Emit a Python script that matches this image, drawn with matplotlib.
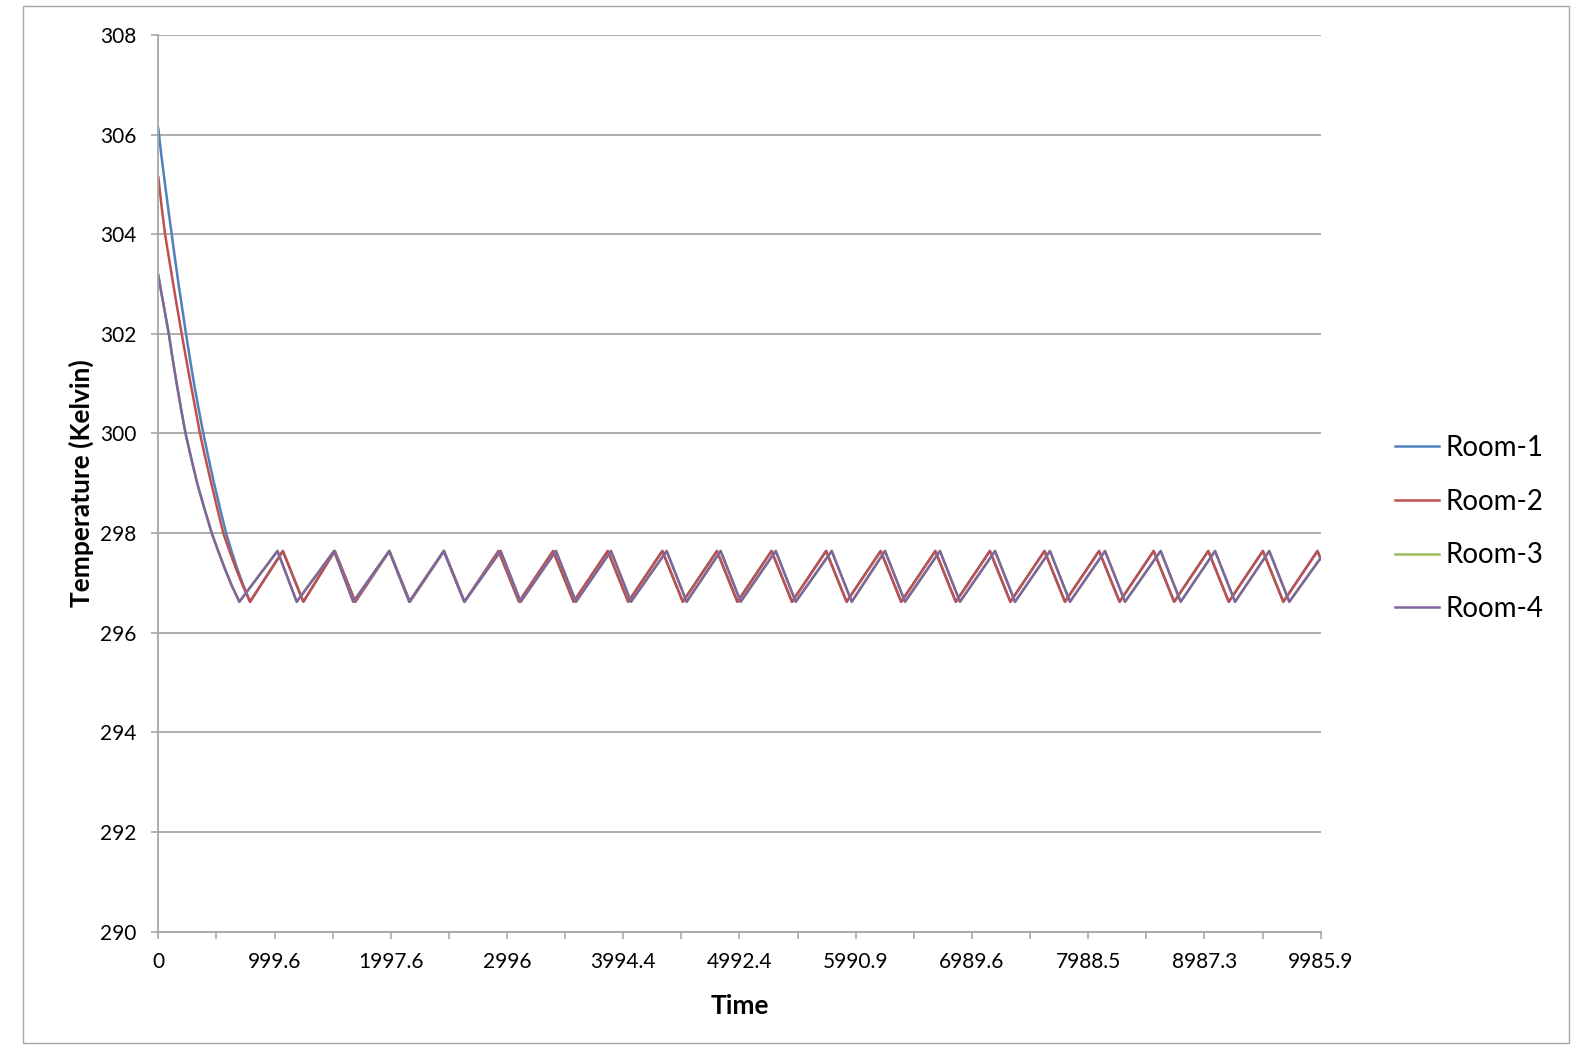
import matplotlib.pyplot as plt
from matplotlib.patches import Rectangle

plt.rcParams["font.family"] = ["Lato", "DejaVu Sans"]

# x axis: labels shown on every other category tick
time_values = [0, 999.6, 1997.6, 2996, 3994.4, 4992.4, 5990.9, 6989.6, 7988.5, 8987.3, 9985.9]
time_labels = ["0", "999.6", "1997.6", "2996", "3994.4", "4992.4",
               "5990.9", "6989.6", "7988.5", "8987.3", "9985.9"]
kelvin_ticks = [290, 292, 294, 296, 298, 300, 302, 304, 306, 308]

# initial cool-down
room1_start_t = [0, 28, 58, 86, 115, 144, 174, 206, 238, 272, 307, 346, 387, 432, 479, 530, 582, 628, 676, 730, 788]
room1_start_k = [306.12, 305.55, 305.0, 304.5, 304.0, 303.5, 303.0, 302.5, 302.0, 301.5, 301.0, 300.5,
                 300.0, 299.5, 299.0, 298.5, 298.0, 297.65, 297.3, 296.95, 296.62]
room2_start_t = [0, 28, 58, 93, 128, 164, 201, 239, 278, 318, 358, 405, 455, 506, 558, 610, 665, 725, 788]
room2_start_k = [305.15, 304.56, 304.0, 303.5, 303.0, 302.5, 302.0, 301.5, 301.0, 300.5, 300.0, 299.5,
                 299.0, 298.5, 298.0, 297.65, 297.3, 296.95, 296.62]
room34_start_t = [0, 22, 44, 67, 90, 123, 158, 195, 234, 283, 334, 395, 459, 513, 569, 630, 696]
room34_start_k = [303.18, 302.88, 302.6, 302.3, 302.0, 301.5, 301.0, 300.5, 300.0, 299.5, 299.0, 298.5,
                  298.0, 297.65, 297.3, 296.95, 296.62]

# thermostat cycling: times of peaks and troughs
room12_peak_t = [1070, 1516, 1985, 2454, 2923, 3392, 3861, 4330, 4799, 5268,
                 5737, 6206, 6675, 7144, 7613, 8082, 8551, 9020, 9489, 9958]
room12_trough_t = [1246, 1692, 2161, 2630, 3099, 3568, 4037, 4506, 4975, 5444,
                   5913, 6382, 6851, 7320, 7789, 8258, 8727, 9196, 9665]
room34_peak_t = [1024, 1510, 1984, 2452, 2941, 3416, 3889, 4367, 4831, 5304,
                 5785, 6243, 6715, 7188, 7660, 8133, 8611, 9078, 9544]
room34_trough_t = [1189, 1675, 2156, 2629, 3113, 3588, 4061, 4539, 5003, 5476,
                   5957, 6415, 6887, 7360, 7832, 8305, 8783, 9250, 9716]
peak_k = 297.64
trough_k = 296.62
room12_end_k = 297.48
room34_end_k = 297.50


def build(start_t, start_k, peaks, troughs, end_k):
    t = list(start_t)
    k = list(start_k)
    for i, p in enumerate(peaks):
        t.append(p)
        k.append(peak_k)
        if i < len(troughs):
            t.append(troughs[i])
            k.append(trough_k)
    t.append(time_values[-1])
    k.append(end_k)
    return t, k


series = [
    ("Room-1", "#4F81BD", build(room1_start_t, room1_start_k, room12_peak_t, room12_trough_t, room12_end_k)),
    ("Room-2", "#C0504D", build(room2_start_t, room2_start_k, room12_peak_t, room12_trough_t, room12_end_k)),
    ("Room-3", "#9BBB59", build(room34_start_t, room34_start_k, room34_peak_t, room34_trough_t, room34_end_k)),
    ("Room-4", "#8064A2", build(room34_start_t, room34_start_k, room34_peak_t, room34_trough_t, room34_end_k)),
]

W, H = 1588, 1049
fig = plt.figure(figsize=(W / 100, H / 100), dpi=100)
ax = fig.add_axes([158.3 / W, 1 - 931.5 / H, (1320.7 - 158.3) / W, (931.5 - 35) / H])

grid_c = "#a6a6a6"
handles = []
for name, color, (t, k) in series:
    (ln,) = ax.plot(t, k, color=color, lw=1.8, label=name)
    handles.append(ln)

ax.set_xlim(time_values[0], time_values[-1])
ax.set_ylim(290, 308)
ax.set_yticks(kelvin_ticks)
ax.set_yticklabels([str(v) for v in kelvin_ticks])
ax.set_xticks(time_values)
ax.set_xticklabels(time_labels)
mids = [(a + b) / 2 for a, b in zip(time_values[:-1], time_values[1:])]
ax.set_xticks(mids, minor=True)

ax.grid(axis="y", color=grid_c, lw=1.3)
ax.set_axisbelow(True)
for s in ["top", "right"]:
    ax.spines[s].set_visible(False)
for s in ["left", "bottom"]:
    ax.spines[s].set_color(grid_c)
    ax.spines[s].set_linewidth(1.3)

ax.tick_params(axis="y", which="both", length=5, width=1.2, color=grid_c, pad=11, labelsize=15)
ax.tick_params(axis="x", which="both", length=5, width=1.2, color=grid_c, pad=10, labelsize=15)

ax.set_ylabel("Temperature (Kelvin)", fontsize=19, fontweight="bold", va="center")
ax.yaxis.set_label_coords(-0.0665, 0.5)
ax.set_xlabel("Time", fontsize=19, fontweight="bold", va="center")
ax.xaxis.set_label_coords(0.5, -0.083)

fig.legend(handles, [h.get_label() for h in handles], loc="center left",
           bbox_to_anchor=(1395 / W, 1 - 528.5 / H), frameon=False, fontsize=20,
           handlelength=1.6, handletextpad=0.2, labelspacing=1.0,
           borderpad=0, borderaxespad=0)

fig.add_artist(Rectangle((23 / W, 1 - 1043 / H), (1569 - 23) / W, (1043 - 6) / H,
                         transform=fig.transFigure, fill=False,
                         edgecolor=grid_c, lw=1))

fig.savefig("out.png", dpi=100)
